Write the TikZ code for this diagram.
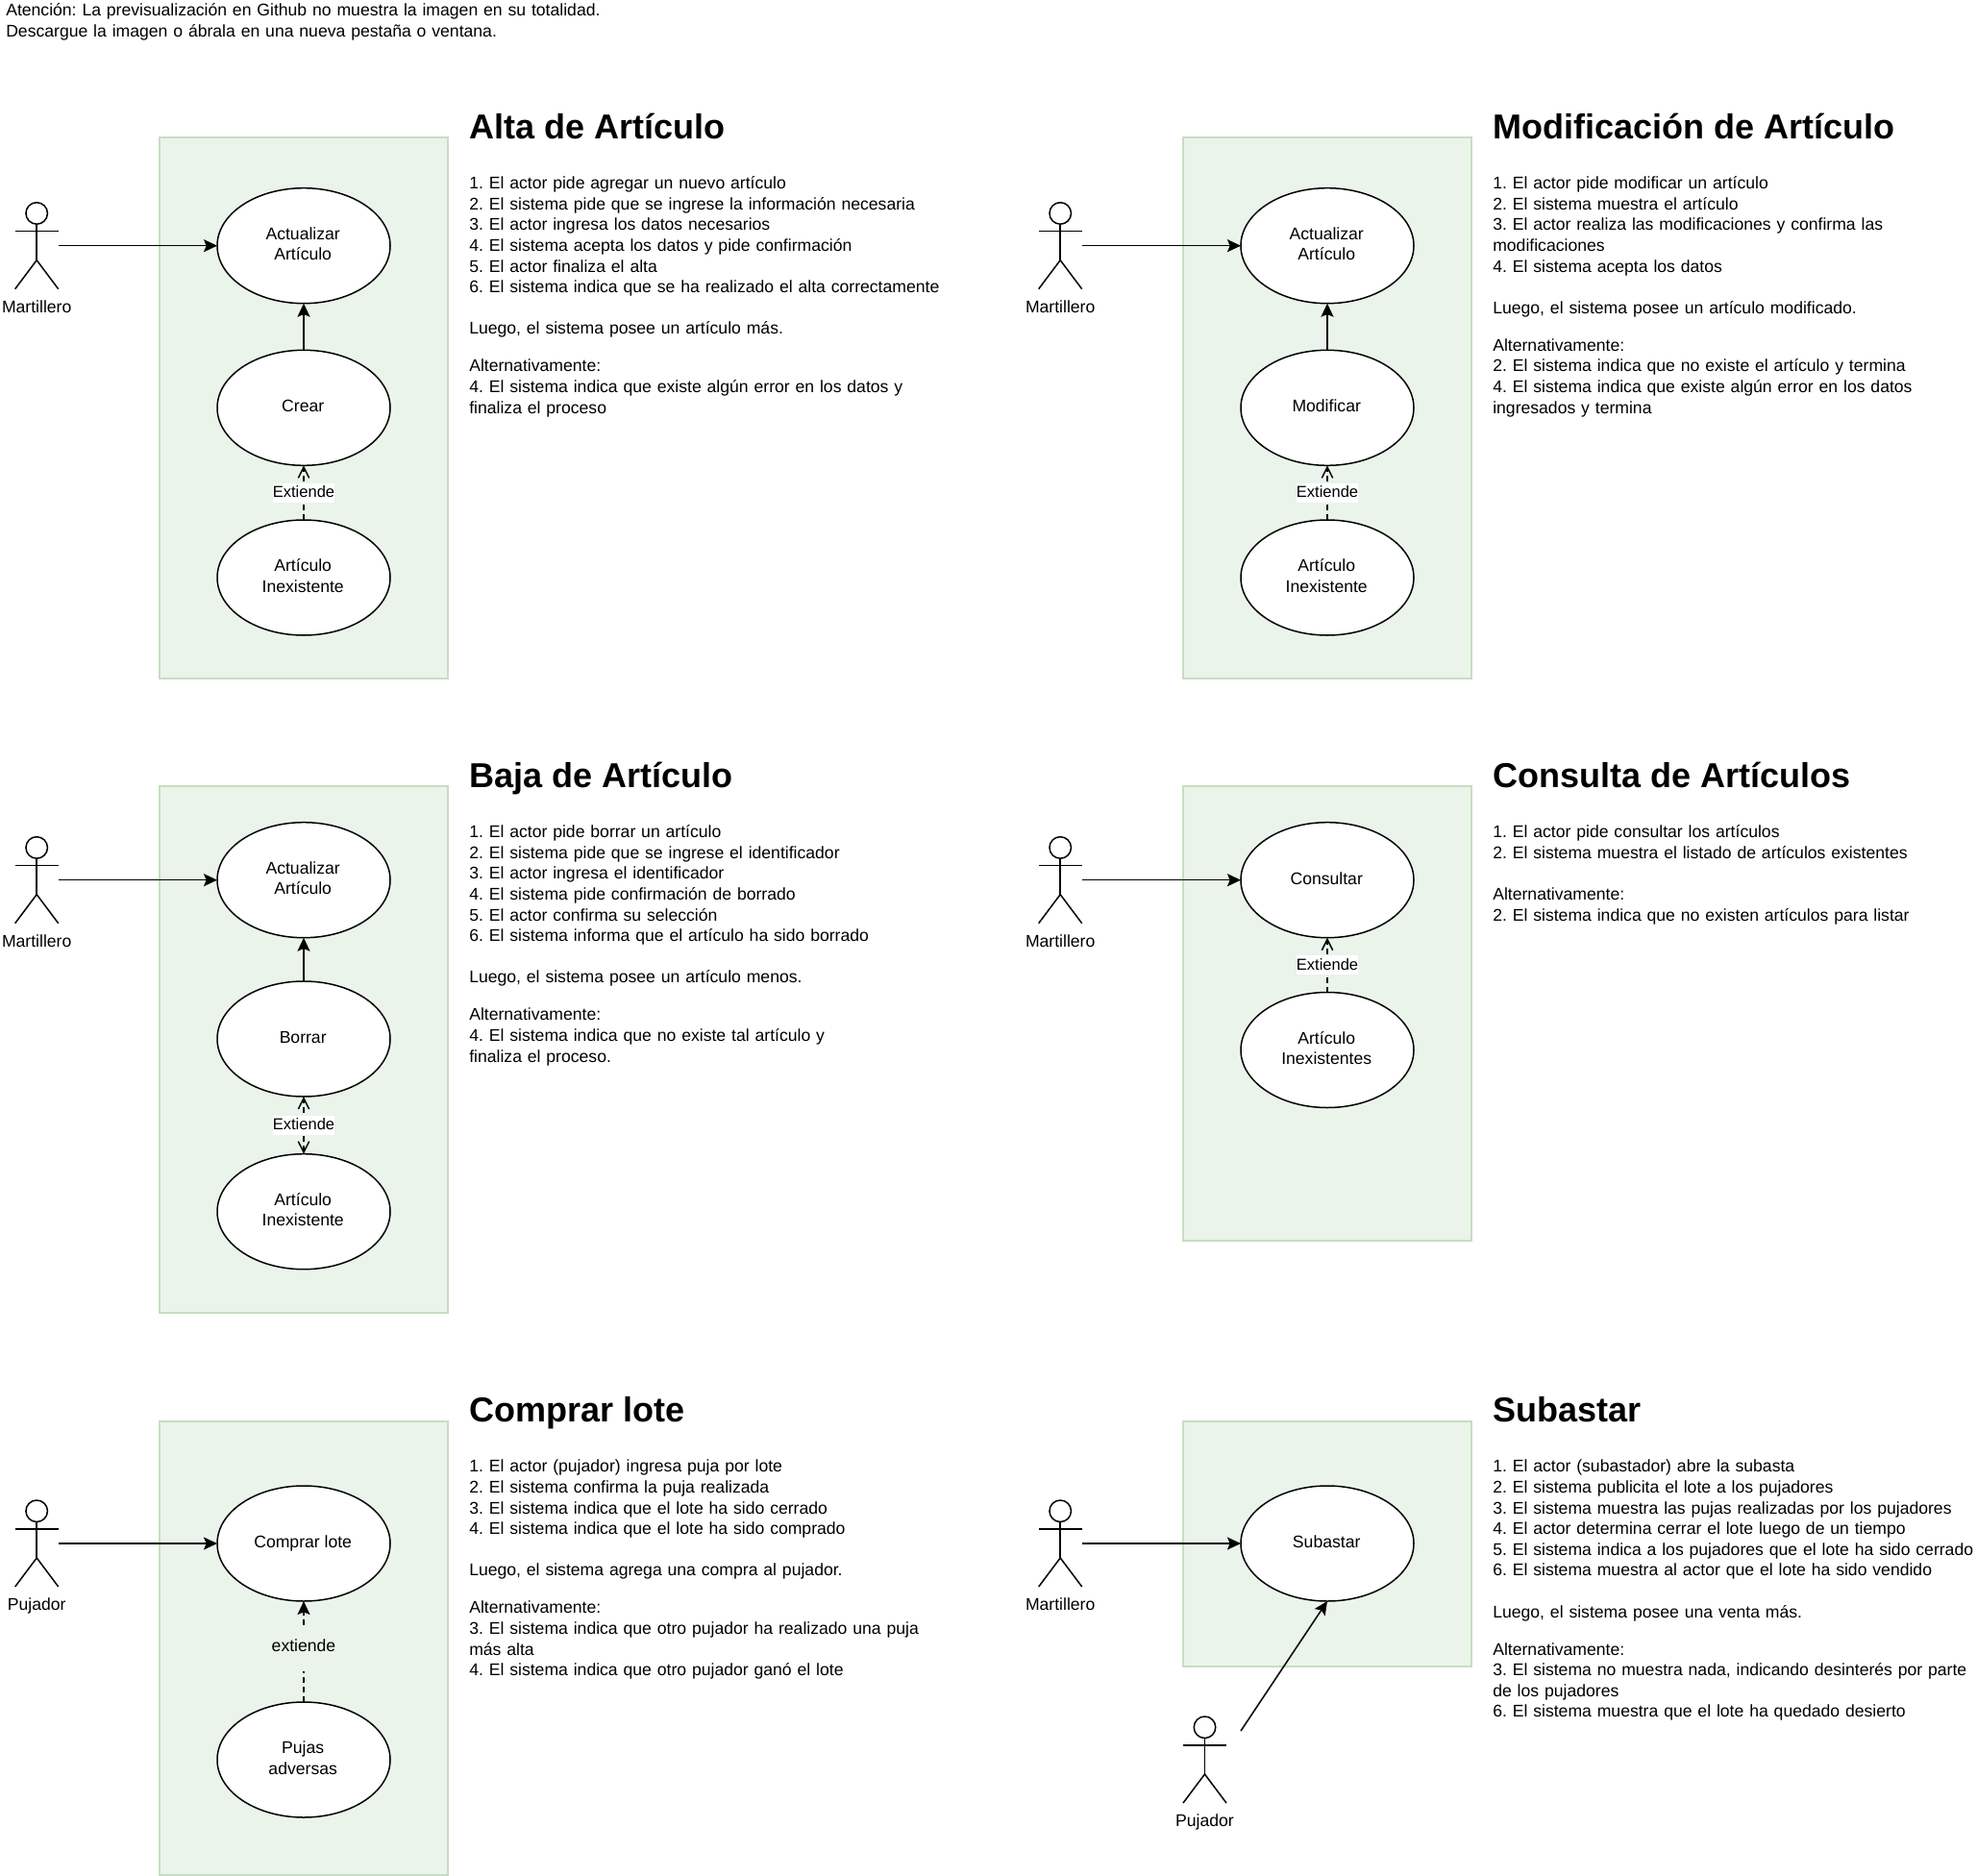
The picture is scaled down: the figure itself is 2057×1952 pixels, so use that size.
\documentclass[tikz,border=0pt]{standalone}
\usepackage{fontspec}
\setmainfont{Liberation Sans}
\usetikzlibrary{arrows.meta, shapes.geometric}

\definecolor{boxfill}{HTML}{EAF4EA}
\definecolor{boxline}{HTML}{C6DEC1}

\tikzset{
    usetext/.style={align=center, inner sep=0pt, font=\fontsize{13.2}{16.2}\selectfont, xshift=-0.6pt},
    usecase/.style={ellipse, draw=black, fill=white, line width=1.125pt, minimum width=135pt, minimum height=90pt,
        inner sep=0pt, outer sep=0pt, label={[usetext]center:\strut #1\strut}},
    sysbox/.style={draw=boxline, fill=boxfill, line width=1.5pt},
    flow/.style={line width=1.125pt, -{Stealth[length=10.5pt, width=9.75pt, inset=2pt]}},
    extend/.style={line width=1.125pt, dash pattern=on 4.5pt off 3pt, -{Straight Barb[length=8.5pt, width=8.5pt]}},
    extendfill/.style={line width=1.125pt, dash pattern=on 4.5pt off 3pt, -{Stealth[length=10.5pt, width=9.75pt, inset=2pt]}},
    extendlabel/.style={fill=white, inner xsep=0pt, inner ysep=1.75pt, text height=9.5pt, text depth=2pt,
        font=\fontsize{12.375}{14.85}\selectfont},
    actorname/.style={anchor=base, inner sep=0pt, font=\fontsize{13.2}{16.2}\selectfont},
    title/.style={anchor=base west, inner sep=0pt, font=\fontsize{27}{32.4}\selectfont\bfseries},
    steps/.style={anchor=base west, inner sep=0pt, align=left, text width=800pt, font=\fontsize{13.2}{16.2}\selectfont\frenchspacing},
    actor/.pic={
        \draw[line width=1.125pt] (0,-33.75) circle [radius=11.25];
        \draw[line width=1.125pt] (0,-22.5) -- (0,15);
        \draw[line width=1.125pt] (-22.5,-15) -- (22.5,-15);
        \draw[line width=1.125pt] (-22.5,45) -- (0,15) -- (22.5,45);
        \coordinate (-hand) at (22.5,0);
        \node[actorname] (-name) at (0,69.3) {#1};
    }
}

\begin{document}
\begin{tikzpicture}[x=0.75pt, y=-0.75pt]

    \useasboundingbox (0,0) rectangle (2057,1952);

    % Notice on top
    \node[steps] (notice) at (6,16.5) {Atención: La previsualización en Github no muestra la imagen en su totalidad.\\
        Descargue la imagen o ábrala en una nueva pestaña o ventana.};

    % The green system boxes
    \foreach \xbox/\ytop/\ybot in {165.7/143.3/705.7, 1231/143.3/705.7, 165.7/818.3/1366, 1231/818.3/1290.7,
        165.7/1478.5/1951, 1231/1478.5/1733.7}
        \draw[sysbox] (\xbox,\ytop) rectangle (\xbox+300,\ybot);

    % Alta de Articulo
    \pic (actorA) at (38.2,255.7) {actor=Martillero};
    \node[usecase={Actualizar\\Artículo}] (actualizarA) at (316,255.7) {};
    \node[usecase=Crear] (crear) at (316,424.3) {};
    \node[usecase={Artículo\\Inexistente}] (inexistenteA) at (316,601) {};
    \draw[flow] (actorA-hand) -- (actualizarA);
    \draw[flow] (crear) -- (actualizarA);
    \draw[extend] (inexistenteA) -- node[extendlabel] (extiendeA) {Extiende} (crear);
    \node[title] (tituloA) at (488,144.3) {Alta de Artículo};
    \node[steps] (pasosA) at (488,196.7) {1. El actor pide agregar un nuevo artículo\\
        2. El sistema pide que se ingrese la información necesaria\\
        3. El actor ingresa los datos necesarios\\
        4. El sistema acepta los datos y pide confirmación\\
        5. El actor finaliza el alta\\
        6. El sistema indica que se ha realizado el alta correctamente\\[16.2pt]
        Luego, el sistema posee un artículo más.\\[13pt]
        Alternativamente:\\
        4. El sistema indica que existe algún error en los datos y\\
        finaliza el proceso};

    % Modificacion de Articulo
    \pic (actorM) at (1103.2,255.7) {actor=Martillero};
    \node[usecase={Actualizar\\Artículo}] (actualizarM) at (1381,255.7) {};
    \node[usecase=Modificar] (modificar) at (1381,424.3) {};
    \node[usecase={Artículo\\Inexistente}] (inexistenteM) at (1381,601) {};
    \draw[flow] (actorM-hand) -- (actualizarM);
    \draw[flow] (modificar) -- (actualizarM);
    \draw[extend] (inexistenteM) -- node[extendlabel] (extiendeM) {Extiende} (modificar);
    \node[title] (tituloM) at (1553,144.3) {Modificación de Artículo};
    \node[steps] (pasosM) at (1553,196.7) {1. El actor pide modificar un artículo\\
        2. El sistema muestra el artículo\\
        3. El actor realiza las modificaciones y confirma las\\
        modificaciones\\
        4. El sistema acepta los datos\\[16.2pt]
        Luego, el sistema posee un artículo modificado.\\[13pt]
        Alternativamente:\\
        2. El sistema indica que no existe el artículo y termina\\
        4. El sistema indica que existe algún error en los datos\\
        ingresados y termina};

    % Baja de Articulo
    \pic (actorB) at (38.2,915.7) {actor=Martillero};
    \node[usecase={Actualizar\\Artículo}] (actualizarB) at (316,915.7) {};
    \node[usecase=Borrar] (borrar) at (316,1081) {};
    \node[usecase={Artículo\\Inexistente}] (inexistenteB) at (316,1260.7) {};
    \draw[flow] (actorB-hand) -- (actualizarB);
    \draw[flow] (borrar) -- (actualizarB);
    \draw[extend, {Straight Barb[length=8.5pt, width=8.5pt]}-{Straight Barb[length=8.5pt, width=8.5pt]}]
        (inexistenteB) -- node[extendlabel] (extiendeB) {Extiende} (borrar);
    \node[title] (tituloB) at (488,819.3) {Baja de Artículo};
    \node[steps] (pasosB) at (488,871.7) {1. El actor pide borrar un artículo\\
        2. El sistema pide que se ingrese el identificador\\
        3. El actor ingresa el identificador\\
        4. El sistema pide confirmación de borrado\\
        5. El actor confirma su selección\\
        6. El sistema informa que el artículo ha sido borrado\\[16.2pt]
        Luego, el sistema posee un artículo menos.\\[13pt]
        Alternativamente:\\
        4. El sistema indica que no existe tal artículo y\\
        finaliza el proceso.};

    % Consulta de Articulos
    \pic (actorC) at (1103.2,915.7) {actor=Martillero};
    \node[usecase=Consultar] (consultar) at (1381,915.7) {};
    \node[usecase={Artículo\\Inexistentes}] (inexistenteC) at (1381,1092.5) {};
    \draw[flow] (actorC-hand) -- (consultar);
    \draw[extend] (inexistenteC) -- node[extendlabel] (extiendeC) {Extiende} (consultar);
    \node[title] (tituloC) at (1553,819.3) {Consulta de Artículos};
    \node[steps] (pasosC) at (1553,871.7) {1. El actor pide consultar los artículos\\
        2. El sistema muestra el listado de artículos existentes\\[16.2pt]
        Alternativamente:\\
        2. El sistema indica que no existen artículos para listar};

    % Comprar lote
    \pic (actorL) at (38.2,1606) {actor=Pujador};
    \node[usecase=Comprar lote] (comprar) at (316,1606) {};
    \node[usecase={Pujas\\adversas}] (pujas) at (316,1831) {};
    \draw[flow] (actorL-hand) -- (comprar);
    \draw[extendfill] (pujas) -- node[pos=0.53, fill=boxfill, inner xsep=0pt, inner ysep=0pt, minimum height=36pt,
        text height=9pt, text depth=4.5pt, font=\fontsize{13.2}{16.2}\selectfont] (extiendeL) {extiende} (comprar);
    \node[title] (tituloL) at (488,1479.5) {Comprar lote};
    \node[steps] (pasosL) at (488,1531.9) {1. El actor (pujador) ingresa puja por lote\\
        2. El sistema confirma la puja realizada\\
        3. El sistema indica que el lote ha sido cerrado\\
        4. El sistema indica que el lote ha sido comprado\\[16.2pt]
        Luego, el sistema agrega una compra al pujador.\\[13pt]
        Alternativamente:\\
        3. El sistema indica que otro pujador ha realizado una puja\\
        más alta\\
        4. El sistema indica que otro pujador ganó el lote};

    % Subastar
    \pic (actorS) at (1103.2,1606) {actor=Martillero};
    \pic (actorP) at (1253.5,1831) {actor=Pujador};
    \node[usecase=Subastar] (subastar) at (1381,1606) {};
    \coordinate (inicioP) at (1291,1801);
    \draw[flow] (actorS-hand) -- (subastar);
    \draw[flow] (inicioP) -- (subastar.south);
    \node[title] (tituloS) at (1553,1479.5) {Subastar};
    \node[steps] (pasosS) at (1553,1531.9) {1. El actor (subastador) abre la subasta\\
        2. El sistema publicita el lote a los pujadores\\
        3. El sistema muestra las pujas realizadas por los pujadores\\
        4. El actor determina cerrar el lote luego de un tiempo\\
        5. El sistema indica a los pujadores que el lote ha sido cerrado\\
        6. El sistema muestra al actor que el lote ha sido vendido\\[16.2pt]
        Luego, el sistema posee una venta más.\\[13pt]
        Alternativamente:\\
        3. El sistema no muestra nada, indicando desinterés por parte\\
        de los pujadores\\
        6. El sistema muestra que el lote ha quedado desierto};

\end{tikzpicture}
\end{document}
